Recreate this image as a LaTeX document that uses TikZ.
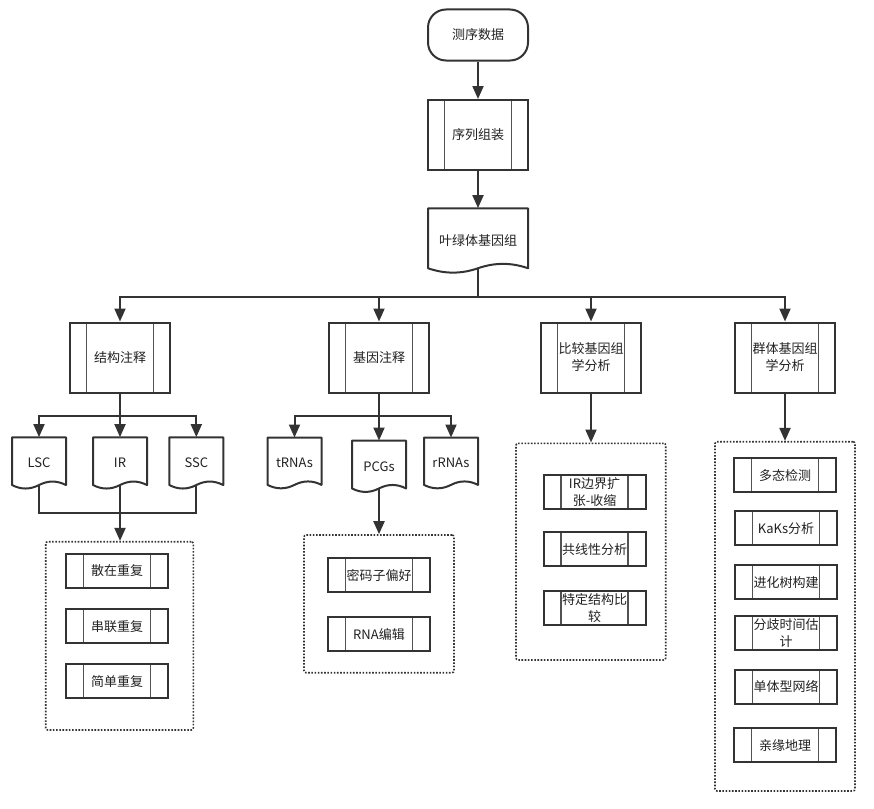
\documentclass[tikz,border=0pt]{standalone}
\usepackage{fontspec}
\setmainfont{Noto Sans CJK SC}
\usetikzlibrary{arrows.meta,calc}
\definecolor{linec}{HTML}{333333}
\definecolor{txtc}{HTML}{222222}
\tikzset{
 base/.style={font=\fontsize{13}{17}\selectfont, text=txtc, align=center, inner sep=0pt},
 innerl/.style={draw=linec!85, line width=1.3pt},
 proc/.style={base, draw=linec, line width=2pt, fill=white, minimum width=100pt, minimum height=70pt,
   path picture={\draw[innerl] ([xshift=#1]path picture bounding box.north west) -- ([xshift=#1]path picture bounding box.south west);
     \draw[innerl] ([xshift=-#1]path picture bounding box.north east) -- ([xshift=-#1]path picture bounding box.south east);}},
 proc/.default=16.5pt,
 sproc/.style={proc=17.5pt, minimum width=102pt, minimum height=34pt},
 term/.style={base, draw=linec, line width=2pt, rounded corners=18pt, minimum width=100pt, minimum height=51pt},
 docn/.style={base},
 docline/.style={draw=linec, line width=2pt, fill=white, line join=round},
 cont/.style={draw=linec, line width=1.6pt, dash pattern=on 1.6pt off 1.6pt, rounded corners=2pt, inner sep=0pt},
 conn/.style={draw=linec, line width=2pt},
 arr/.style={conn, -{Triangle[length=13pt,width=11pt]}},
 fromdoc/.style={shorten <=-4pt},
}
\newcommand{\mydoc}[6]{%
 \draw[docline] (#2,#3) -- ({#2+#4},#3) -- ({#2+#4},{#3+0.925*#5}) .. controls ({#2+5*#4/6},{#3+0.835*#5}) and ({#2+2*#4/3},{#3+0.835*#5}) .. ({#2+#4/2},{#3+0.925*#5}) .. controls ({#2+#4/3},{#3+1.015*#5}) and ({#2+#4/6},{#3+1.015*#5}) .. (#2,{#3+0.925*#5}) -- cycle;
 \node[docn, minimum width=#4pt, minimum height=#5pt] (#1) at ({#2+#4/2},{#3+#5/2}) {#6};
}
\begin{document}
\begin{tikzpicture}[x=1pt,y=-1pt]
\useasboundingbox (0,0) rectangle (874,808);
% containers
\node[cont, minimum width=147.6pt, minimum height=188.3pt] (lcont) at (119.5,635.85) {};
\node[cont, minimum width=150pt, minimum height=137.7pt] (mcont) at (379,603.85) {};
\node[cont, minimum width=149.7pt, minimum height=216.7pt] (ccont) at (590.85,551.65) {};
\node[cont, minimum width=140pt, minimum height=349.3pt] (pcont) at (785,616.35) {};
% top chain
\node[term] (start) at (478,35) {测序数据};
\node[proc] (asm) at (478,135) {序列组装};
\mydoc{gn}{428}{208.3}{100}{64.8}{叶绿体基因组}
% level 2
\node[proc] (jg) at (120,357.5) {结构注释};
\node[proc] (jy) at (379,357.5) {基因注释};
\node[proc] (bj) at (591,357.5) {比较基因组\\学分析};
\node[proc] (qt) at (785,357.5) {群体基因组\\学分析};
% documents
\mydoc{lsc}{12}{437.3}{54}{51.6}{LSC}
\mydoc{ir}{93}{437.3}{54}{51.6}{IR}
\mydoc{ssc}{169.3}{437.3}{54}{51.6}{SSC}
\mydoc{trna}{267.5}{437.7}{54}{51}{tRNAs}
\mydoc{pcg}{352}{440.7}{54}{51.6}{PCGs}
\mydoc{rrna}{424}{437.7}{54}{51}{rRNAs}
% left container
\node[sproc] (r1) at (117,570.8) {散在重复};
\node[sproc] (r2) at (117,626.3) {串联重复};
\node[sproc] (r3) at (117,681.2) {简单重复};
% middle container
\node[sproc] (m1) at (379,575.2) {密码子偏好};
\node[sproc] (m2) at (379,634.3) {RNA编辑};
% comparative container
\node[sproc] (c1) at (594.5,492.3) {IR边界扩\\张-收缩};
\node[sproc] (c2) at (594.5,549.3) {共线性分析};
\node[sproc] (c3) at (594.5,608.3) {特定结构比\\较};
% population container
\node[sproc] (p1) at (785,475.3) {多态检测};
\node[sproc] (p2) at (786,528.3) {KaKs分析};
\node[sproc] (p3) at (786,582.3) {进化树构建};
\node[sproc] (p4) at (786,633.3) {分歧时间估\\计};
\node[sproc] (p5) at (786,686.7) {单体型网络};
\node[sproc] (p6) at (785,745.3) {亲缘地理};
% buses
\coordinate (bus) at (478,296.7);
\coordinate (lbus) at (120,415.5);
\coordinate (lbus2) at (120,512.7);
\coordinate (mbus) at (379,415.5);
% connectors
\draw[arr] (start) -- (asm);
\draw[arr] (asm) -- (gn.north);
\draw[conn, shorten <=-5pt] (gn.south) -- (bus);
\draw[arr] (bus) -| (jg.north);
\draw[arr] (bus) -| (jy.north);
\draw[arr] (bus) -| (bj.north);
\draw[arr] (bus) -| (qt.north);
\draw[conn] (jg.south) -- (lbus);
\draw[arr] (lbus) -| (lsc.north);
\draw[arr] (jg.south) -- (ir.north);
\draw[arr] (lbus) -| (ssc.north);
\draw[conn, fromdoc] (lsc.south) |- (lbus2);
\draw[conn, fromdoc] (ssc.south) |- (lbus2);
\draw[arr, fromdoc] (ir.south) -- (ir.south |- lcont.north);
\draw[conn] (jy.south) -- (mbus);
\draw[arr] (mbus) -| (trna.north);
\draw[arr] (jy.south) -- (pcg.north);
\draw[arr] (mbus) -| (rrna.north);
\draw[arr, fromdoc] (pcg.south) -- (pcg.south |- mcont.north);
\draw[arr] (bj.south) -- (bj.south |- ccont.north);
\draw[arr] (qt.south) -- (qt.south |- pcont.north);
\end{tikzpicture}
\end{document}
